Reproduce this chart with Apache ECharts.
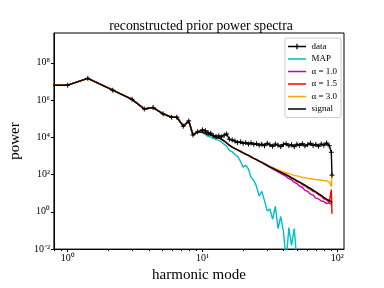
<!DOCTYPE html>
<html><head><meta charset="utf-8">
<script src="https://cdn.jsdelivr.net/npm/echarts@6/dist/echarts.min.js"></script>
<style>html,body{margin:0;padding:0;background:#fff}#c{width:384px;height:288px}</style>
</head><body><div id="c"></div><script>
// harmonic modes (x)
const kLow = [0.5, 1.0, 1.41, 2.16, 3.0, 3.7, 4.3, 5.1, 5.9, 6.45, 7.2, 7.9, 8.5, 9.2];
const kHigh = [10.0,10.5,11.0,11.5,12.0,12.6,13.2,13.8,14.5,15.1,15.8,16.6,17.4,18.2,19.1,20.0,20.9,21.9,22.9,24.0,25.1,26.3,27.5,28.8,30.2,31.6,33.1,34.7,36.3,38.0,39.8,41.7,43.7,45.7,47.9,50.1,52.5,55.0,57.5,60.3,63.1,66.1,69.2,72.4,75.9,79.4,83.2,87.1,90.2,91.2];
// log10(power); low-k part is shared by all curves
const lowExp = [6.8, 6.8, 7.17, 6.53, 6.04, 5.52, 5.60, 5.26, 5.08, 5.08, 4.6, 4.88, 4.13, 4.30];
const dataExp = [4.40,4.35,4.25,4.22,4.10,4.05,4.08,4.02,4.12,4.18,3.90,3.86,3.80,3.72,3.76,3.68,3.72,3.64,3.70,3.62,3.66,3.58,3.63,3.55,3.68,3.60,3.52,3.64,3.58,3.50,3.62,3.66,3.55,3.60,3.50,3.63,3.57,3.66,3.54,3.61,3.68,3.56,3.62,3.52,3.64,3.58,3.70,3.55,3.20,1.97];
const mapExp = [4.25,4.15,4.05,4.02,3.95,3.88,3.85,3.76,3.62,3.52,3.30,3.22,3.08,2.98,2.72,2.40,2.50,2.30,1.85,1.70,1.38,0.85,1.10,0.60,0.05,0.15,-0.40,0.30,-0.90,-0.25,-1.05,-2.6,-0.85,-1.8,-0.90,-2.7,-3.0,-3.4,-2.9,-3.6,-3.2,-3.8,-3.5,-4.0,-3.7,-4.2,-3.9,-4.3,-4.4,-4.5];
const signalExp = [4.28,4.22,4.14,4.16,4.06,3.98,3.99,3.90,3.80,3.70,3.58,3.47,3.40,3.33,3.25,3.17,3.10,3.03,2.95,2.87,2.80,2.72,2.66,2.58,2.49,2.42,2.35,2.27,2.20,2.13,2.06,2.00,1.92,1.84,1.76,1.68,1.60,1.52,1.43,1.34,1.26,1.17,1.08,0.98,0.89,0.78,0.69,0.60,0.55,0.50];
const a10Exp = [4.28,4.22,4.14,4.16,4.06,3.98,3.99,3.90,3.80,3.70,3.58,3.47,3.40,3.33,3.25,3.17,3.10,3.03,2.95,2.87,2.80,2.72,2.66,2.56,2.47,2.39,2.31,2.22,2.14,2.06,1.98,1.90,1.78,1.72,1.58,1.52,1.38,1.32,1.15,1.10,0.95,0.90,0.74,0.70,0.58,0.56,0.44,0.48,0.40,0.42];
const a15Exp = [4.28,4.22,4.14,4.16,4.06,3.98,3.99,3.90,3.80,3.70,3.58,3.47,3.40,3.33,3.25,3.17,3.10,3.03,2.95,2.87,2.80,2.72,2.66,2.58,2.49,2.42,2.35,2.27,2.20,2.13,2.04,1.96,1.90,1.80,1.74,1.62,1.58,1.46,1.40,1.28,1.22,1.10,1.04,0.92,0.84,0.70,0.64,0.50,1.20,-0.10];
const a30Exp = [4.28,4.22,4.14,4.16,4.06,3.98,3.99,3.90,3.80,3.70,3.58,3.47,3.40,3.33,3.25,3.17,3.10,3.03,2.95,2.87,2.80,2.72,2.66,2.60,2.52,2.45,2.39,2.32,2.26,2.20,2.14,2.10,2.05,2.00,1.96,1.93,1.89,1.86,1.84,1.80,1.78,1.76,1.73,1.72,1.70,1.68,1.66,1.60,1.35,2.00];
const names = ['data', 'MAP', 'α = 1.0', 'α = 1.5', 'α = 3.0', 'signal'];
const colors = ['#000000', '#00bfbf', '#bf00bf', '#ff0000', '#ffa500', '#000000'];
const xMajor = [1, 10, 100];
const xMinor = [0.8, 0.9, 2, 3, 4, 5, 6, 7, 8, 9, 20, 30, 40, 50, 60, 70, 80, 90];
const yMajor = [1e-2, 1, 1e2, 1e4, 1e6, 1e8];

const ks = kLow.concat(kHigh);
const mk = ex => ks.map((k, i) => [k, Math.pow(10, (i < kLow.length ? lowExp[i] : ex[i - kLow.length]))]);
const allExp = [dataExp, mapExp, a10Exp, a15Exp, a30Exp, signalExp];
const sup = {'-':'⁻','0':'⁰','1':'¹','2':'²','3':'³','4':'⁴','5':'⁵','6':'⁶','7':'⁷','8':'⁸','9':'⁹'};
const fmt = v => '10' + String(Math.round(Math.log10(v))).split('').map(c => sup[c]).join('');
const FF = 'Liberation Serif';
// legend glyphs: corner dots fix the bounding box so the line stays thin
const lineIcon = 'path://M0,0h0.01v0.01zM20,10h0.01v0.01zM0,4.1H20V5.9H0Z';
const dataIcon = 'path://M0,0h0.01v0.01zM20,10h0.01v0.01zM0,4.1H20V5.9H0ZM9.3,2H10.7V8H9.3Z';

const chart = echarts.init(document.getElementById('c'), null, {renderer: 'canvas'});
const series = allExp.map((ex, i) => ({
  name: names[i], type: 'line', data: mk(ex), xAxisIndex: 0, yAxisIndex: 0,
  showSymbol: i === 0, symbol: i === 0 ? 'path://M0,5L10,5M5,0L5,10' : 'none', symbolSize: 5,
  itemStyle: {color: colors[i], borderColor: colors[i], borderWidth: 1},
  lineStyle: {color: colors[i], width: 1.4}, clip: true, animation: false, silent: true
}));
chart.setOption({
  animation: false,
  backgroundColor: '#fff',
  title: {text: 'reconstructed prior power spectra', left: 196, top: 14, textAlign: 'center',
    textStyle: {fontFamily: FF, fontSize: 13.7, fontWeight: 'normal', color: '#000'}},
  grid: {left: 48, right: 40, top: 33, bottom: 32, show: true, borderColor: '#000', borderWidth: 1, containLabel: false},
  legend: {orient: 'vertical', left: 285, top: 38, itemGap: 3.5, itemWidth: 19, itemHeight: 9,
    padding: [4, 4, 4, 3], backgroundColor: 'rgba(255,255,255,0.85)', borderColor: '#ccc', borderWidth: 1, borderRadius: 2,
    textStyle: {fontFamily: FF, fontSize: 9, color: '#000'},
    data: names.map((n, i) => ({name: n, icon: i === 0 ? dataIcon : lineIcon,
      itemStyle: {color: colors[i], borderWidth: 0}}))},
  xAxis: [{type: 'log', logBase: 10, min: 0.79, max: 112, gridIndex: 0,
    name: 'harmonic mode', nameLocation: 'middle', nameGap: 14,
    nameTextStyle: {fontFamily: FF, fontSize: 15, color: '#000'},
    axisLine: {show: true, lineStyle: {color: '#000', width: 1}},
    axisTick: {show: true, length: 3, customValues: xMajor, lineStyle: {color: '#000'}},
    axisLabel: {customValues: xMajor, formatter: fmt, fontFamily: FF, fontSize: 10, color: '#000', margin: 4},
    splitLine: {show: false}, minorTick: {show: false}},
   {type: 'log', logBase: 10, min: 0.79, max: 112, gridIndex: 0, position: 'bottom',
    axisLine: {show: false},
    axisTick: {show: true, length: 2, customValues: xMinor, lineStyle: {color: '#000'}},
    axisLabel: {show: false}, splitLine: {show: false}}],
  yAxis: [{type: 'log', logBase: 10, min: 0.01, max: 4e9,
    name: 'power', nameLocation: 'middle', nameGap: 25, nameRotate: 90,
    nameTextStyle: {fontFamily: FF, fontSize: 15, color: '#000'},
    axisLine: {show: true, lineStyle: {color: '#000', width: 1}},
    axisTick: {show: true, length: 3, customValues: yMajor, lineStyle: {color: '#000'}},
    axisLabel: {customValues: yMajor, formatter: fmt, fontFamily: FF, fontSize: 10, color: '#000', margin: 4},
    splitLine: {show: false}}],
  series: series
});
</script></body></html>
